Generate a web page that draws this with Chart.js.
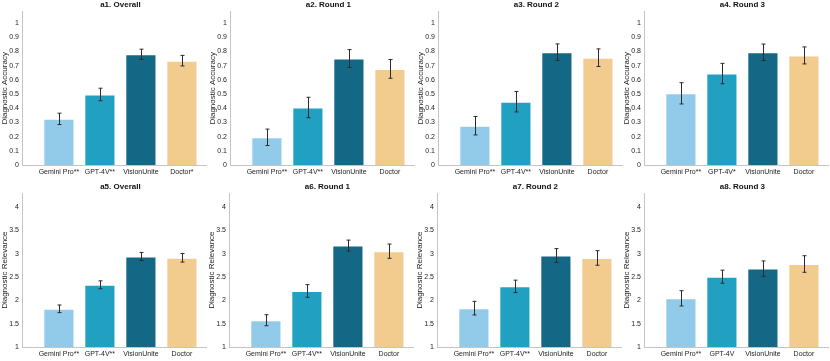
<!DOCTYPE html>
<html>
<head>
<meta charset="utf-8">
<script src="https://cdn.jsdelivr.net/npm/chart.js@4.4.0/dist/chart.umd.min.js"></script>
<style>
html,body{margin:0;padding:0;background:#fff;width:830px;height:361px;overflow:hidden;}
canvas{position:absolute;}
</style>
</head>
<body>
<script>
// ---- data ----
const titles = ['a1. Overall','a2. Round 1','a3. Round 2','a4. Round 3','a5. Overall','a6. Round 1','a7. Round 2','a8. Round 3'];
const labelsA1 = ['Gemini Pro**','GPT-4V**','VisionUnite','Doctor*'];
const labelsA2 = ['Gemini Pro**','GPT-4V**','VisionUnite','Doctor'];
const labelsA3 = ['Gemini Pro**','GPT-4V**','VisionUnite','Doctor'];
const labelsA4 = ['Gemini Pro**','GPT-4V*','VisionUnite','Doctor'];
const labelsA5 = ['Gemini Pro**','GPT-4V**','VisionUnite','Doctor'];
const labelsA6 = ['Gemini Pro**','GPT-4V**','VisionUnite','Doctor'];
const labelsA7 = ['Gemini Pro**','GPT-4V**','VisionUnite','Doctor'];
const labelsA8 = ['Gemini Pro**','GPT-4V','VisionUnite','Doctor'];

const accA1 = [0.325,0.497,0.780,0.735];  const accErrA1 = [0.040,0.044,0.036,0.037];
const accA2 = [0.195,0.405,0.750,0.677];  const accErrA2 = [0.058,0.072,0.063,0.066];
const accA3 = [0.277,0.446,0.795,0.756];  const accErrA3 = [0.065,0.072,0.058,0.062];
const accA4 = [0.505,0.644,0.794,0.772];  const accErrA4 = [0.075,0.072,0.058,0.060];
const relA5 = [1.820,2.336,2.945,2.915];  const relErrA5 = [0.082,0.085,0.086,0.092];
const relA6 = [1.575,2.203,3.177,3.057];  const relErrA6 = [0.118,0.136,0.118,0.153];
const relA7 = [1.834,2.302,2.966,2.912];  const relErrA7 = [0.146,0.133,0.147,0.157];
const relA8 = [2.045,2.510,2.683,2.782];  const relErrA8 = [0.164,0.140,0.165,0.178];

const accTickValues = [0,0.1,0.2,0.3,0.4,0.5,0.6,0.7,0.8,0.9,1];
const accTickLabels = ['0','0.1','0.2','0.3','0.4','0.5','0.6','0.7','0.8','0.9','1'];
const relTickValues = [1,1.5,2,2.5,3,3.5,4];
const relTickLabels = ['1','1.5','2','2.5','3','3.5','4'];
const yTitles = ['Diagnostic Accuracy','Diagnostic Relevance'];
const barColors = ['#92cbea','#21a0c1','#146785','#f1cc8e'];

// ---- layout ----
const FONT = "'Liberation Sans', Arial, Helvetica, sans-serif";
const panels = [
  {labels:labelsA1, vals:accA1, errs:accErrA1, row:0, left:0},
  {labels:labelsA2, vals:accA2, errs:accErrA2, row:0, left:207.8},
  {labels:labelsA3, vals:accA3, errs:accErrA3, row:0, left:415.6},
  {labels:labelsA4, vals:accA4, errs:accErrA4, row:0, left:622},
  {labels:labelsA5, vals:relA5, errs:relErrA5, row:1, left:0},
  {labels:labelsA6, vals:relA6, errs:relErrA6, row:1, left:206.6},
  {labels:labelsA7, vals:relA7, errs:relErrA7, row:1, left:414.8},
  {labels:labelsA8, vals:relA8, errs:relErrA8, row:1, left:622}
];
const rowCfg = [
  {top:0, height:180, padTop:11.7, xH:15, ymin:0, ymax:1.08, tv:accTickValues, tl:accTickLabels, titleY:5},
  {top:180, height:181, padTop:13.3, xH:14, ymin:1, ymax:4.3, tv:relTickValues, tl:relTickLabels, titleY:6.7}
];

const errPlugin = {
  id:'errbars',
  afterDatasetsDraw(chart, args, opts){
    const ctx = chart.ctx, ys = chart.scales.y;
    const meta = chart.getDatasetMeta(0);
    ctx.save();
    ctx.strokeStyle = '#2b2b2b'; ctx.lineWidth = 1;
    meta.data.forEach((bar,i)=>{
      const v = opts.vals[i], e = opts.errs[i];
      const x = Math.round(bar.x)+0.5;
      const y1 = ys.getPixelForValue(v+e), y2 = ys.getPixelForValue(v-e);
      ctx.beginPath();
      ctx.moveTo(x,y1); ctx.lineTo(x,y2);
      ctx.moveTo(x-2,y1); ctx.lineTo(x+2,y1);
      ctx.moveTo(x-2,y2); ctx.lineTo(x+2,y2);
      ctx.stroke();
    });
    const xs = chart.scales.x;
    ctx.fillStyle = '#111';
    ctx.font = 'bold 8px ' + FONT;
    ctx.textAlign = 'center'; ctx.textBaseline = 'middle';
    ctx.fillText(opts.title, xs.getPixelForValue(2.5), opts.titleY);
    ctx.restore();
  }
};

panels.forEach((p, idx)=>{
  const r = rowCfg[p.row];
  const cv = document.createElement('canvas');
  const W = 208;
  cv.width = W; cv.height = r.height;
  cv.style.left = p.left + 'px'; cv.style.top = r.top + 'px';
  cv.style.width = W + 'px'; cv.style.height = r.height + 'px';
  document.body.appendChild(cv);
  new Chart(cv, {
    type:'bar',
    data:{
      datasets:[{
        data: p.vals.map((v,i)=>({x:i+1, y:v})),
        backgroundColor: barColors,
        borderColor: 'rgba(255,255,255,0.55)',
        borderWidth: 1,
        barPercentage: 0.76,
        categoryPercentage: 1
      }]
    },
    options:{
      responsive:false, animation:false, devicePixelRatio:1,
      layout:{padding:{top:r.padTop, right:W-22-184.5, left:0, bottom:0}},
      plugins:{legend:{display:false}, tooltip:{enabled:false}, title:{display:false},
        errbars:{vals:p.vals, errs:p.errs, title:titles[idx], titleY:r.titleY}},
      scales:{
        x:{
          type:'linear', min:0.1, max:4.6, offset:false,
          afterBuildTicks(ax){ ax.ticks = p.labels.map((l,i)=>({value:i+1})); },
          afterFit(ax){ ax.height = r.xH; },
          grid:{display:false, drawTicks:false, offset:false},
          border:{display:true, color:'#c4c4c4', width:1},
          ticks:{
            autoSkip:false, maxRotation:0, minRotation:0, padding:3,
            color:'#222', font:{family:FONT, size:7},
            callback(v, i){ return p.labels[i]; }
          }
        },
        y:{
          type:'linear', min:r.ymin, max:r.ymax,
          afterBuildTicks(ax){ ax.ticks = r.tv.map(v=>({value:v})); },
          afterFit(ax){ ax.width = 22; },
          grid:{display:false, drawTicks:false},
          border:{display:true, color:'#c4c4c4', width:1},
          ticks:{
            autoSkip:false, padding:3, color:'#222', font:{family:FONT, size:7},
            callback(v, i){ return r.tl[i]; }
          },
          title:{display:true, text:yTitles[p.row], color:'#222', font:{family:FONT, size:8}, padding:{top:0,bottom:0}}
        }
      }
    },
    plugins:[errPlugin]
  });
});
</script>
</body>
</html>
